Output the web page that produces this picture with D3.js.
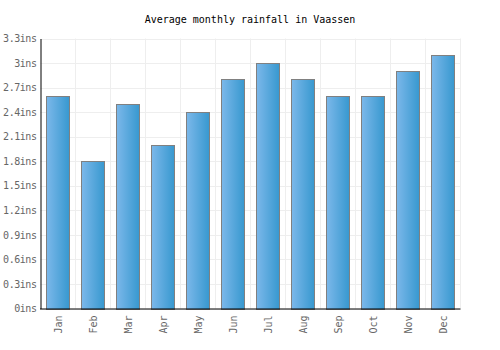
<!DOCTYPE html>
<html>
<head>
<meta charset="utf-8">
<script src="https://cdn.jsdelivr.net/npm/d3@7/dist/d3.min.js"></script>
<style>
body { margin: 0; background: #fff; }
svg { display: block; }
</style>
</head>
<body>
<svg id="chart" width="500" height="350"></svg>
<script>
const months = ["Jan","Feb","Mar","Apr","May","Jun","Jul","Aug","Sep","Oct","Nov","Dec"];
const rainfall = [2.6, 1.8, 2.5, 2.0, 2.4, 2.8, 3.0, 2.8, 2.6, 2.6, 2.9, 3.1];
const yTicks = [0, 0.3, 0.6, 0.9, 1.2, 1.5, 1.8, 2.1, 2.4, 2.7, 3, 3.3];
const title = "Average monthly rainfall in Vaassen";

const svg = d3.select("#chart");
const m = { left: 40.5, right: 460.5, top: 38.5, bottom: 308.5 };
const font = "'DejaVu Sans Mono', monospace";

const x = d3.scaleBand().domain(months).range([m.left, m.right]).paddingInner(1/3).paddingOuter(1/6);
const xGrid = d3.scaleBand().domain(months).range([m.left, m.right]);
const y = d3.scaleLinear().domain([0, 3.3]).range([m.bottom, m.top]);

const defs = svg.append("defs");
const grad = defs.append("linearGradient").attr("id", "barGrad").attr("x1", "0").attr("x2", "1").attr("y1", "0").attr("y2", "0");
grad.append("stop").attr("offset", "0%").attr("stop-color", "#7cb8ea");
grad.append("stop").attr("offset", "100%").attr("stop-color", "#3798cf");

// grid
const g = svg.append("g");
g.selectAll(".hg").data(yTicks).enter().append("line")
  .attr("x1", m.left).attr("x2", m.right)
  .attr("y1", d => Math.round(y(d)) + 0.5).attr("y2", d => Math.round(y(d)) + 0.5)
  .attr("stroke", "#eeeeee").attr("stroke-width", 1);
g.selectAll(".vg").data(months).enter().append("line")
  .attr("x1", d => xGrid(d) + xGrid.bandwidth()).attr("x2", d => xGrid(d) + xGrid.bandwidth())
  .attr("y1", m.top).attr("y2", m.bottom)
  .attr("stroke", "#eeeeee").attr("stroke-width", 1);

// bars
svg.selectAll(".bar").data(months).enter().append("rect")
  .attr("x", d => Math.round(x(d)) + 0.5)
  .attr("width", Math.round(x.bandwidth()))
  .attr("y", (d, i) => Math.round(y(rainfall[i])) + 0.5)
  .attr("height", (d, i) => Math.round(y(0)) - Math.round(y(rainfall[i])))
  .attr("fill", "url(#barGrad)")
  .attr("stroke", "#808080").attr("stroke-width", 1);

// y axis
const yAxis = d3.axisLeft(y).tickValues(yTicks).tickSize(0).tickPadding(4).tickFormat(d => d3.format("~g")(d) + "ins");
const ya = svg.append("g").attr("transform", `translate(${m.left},0)`).call(yAxis);
ya.select(".domain").attr("stroke", "#000");
ya.selectAll("text").attr("font-family", font).attr("font-size", 10).attr("fill", "#666")
  .attr("letter-spacing", "-0.45px");

// x axis
const xAxis = d3.axisBottom(x).tickSize(0).tickPadding(0);
const xa = svg.append("g").attr("transform", `translate(0,${m.bottom})`).call(xAxis);
xa.select(".domain").attr("stroke", "#000").attr("d", `M${m.left - 0.5},0.5H${m.right}`);
xa.selectAll("text")
  .attr("font-family", font).attr("font-size", 10).attr("fill", "#666")
  .attr("transform", "rotate(-90)")
  .attr("text-anchor", "end")
  .attr("x", -7).attr("y", 0).attr("dy", "0.35em");

// title
svg.append("text").attr("x", 250).attr("y", 23).attr("text-anchor", "middle")
  .attr("font-family", font).attr("font-size", 10).attr("fill", "#000").text(title);
</script>
</body>
</html>
